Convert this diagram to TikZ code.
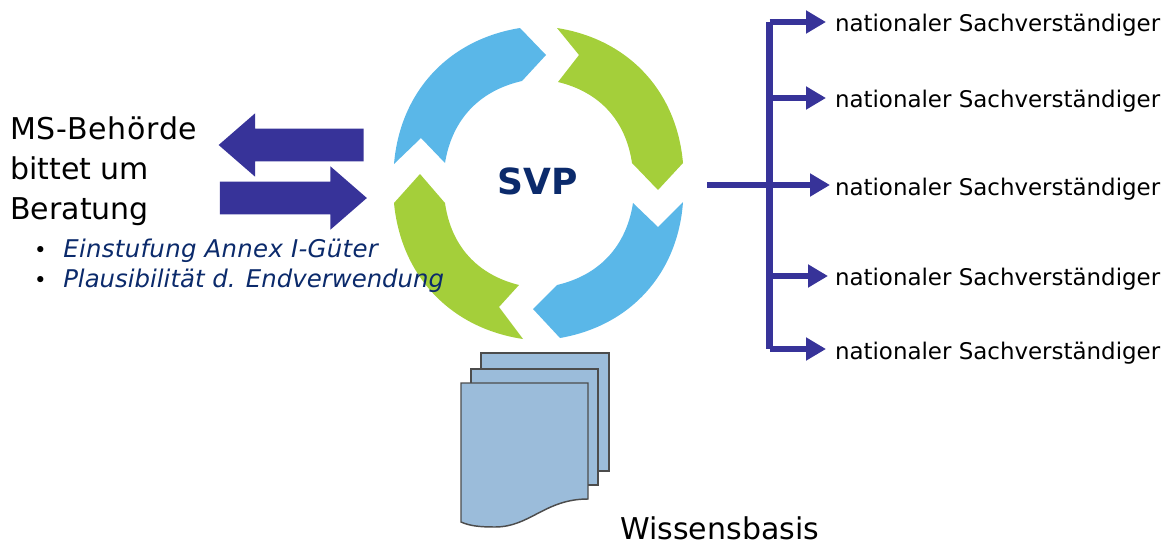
\documentclass[tikz,border=0pt]{standalone}
\usepackage{fontspec}
\setmainfont{DejaVu Sans}
\usepackage{xcolor}
\usetikzlibrary{shapes,arrows.meta,positioning}
\definecolor{svpblue}{HTML}{5AB7E8}
\definecolor{svpgreen}{HTML}{A4CF3A}
\definecolor{pfeilblau}{HTML}{373399}
\definecolor{textblau}{HTML}{0B2A6B}
\definecolor{blatt}{HTML}{9BBCDA}

\begin{document}
\begin{tikzpicture}[
    x=0.75pt, y=-0.75pt,
    segment/.style={draw=none, line join=round},
    bigarrow/.style={single arrow, fill=pfeilblau, inner xsep=0pt, inner ysep=12pt, single arrow head extend=11.6pt, single arrow tip angle=82, single arrow head indent=0pt},
    busline/.style={draw=pfeilblau, line width=4.8pt, line cap=butt},
    busarrow/.style={busline, -{Triangle[length=15pt,width=16.5pt]}},
    expert/.style={anchor=base west, inner sep=0pt, outer xsep=4.5pt, font=\fontsize{17.2}{20}\selectfont},
    sheet/.style={draw=black!70, fill=blatt, line width=1.1pt}
]
    \useasboundingbox (0,0) rectangle (1168,543);

    % ring
    \fill[svpblue, segment] (394,164) to[bend left=38] (520,28) -- (546,55) -- (522,81)
        to[bend right=34] (445,163) -- (421,138) -- cycle;
    \fill[svpgreen, segment] (557,28) to[bend left=38] (683,163) -- (658,190) -- (632,163)
        to[bend right=34] (558,82) -- (579,55) -- cycle;
    \fill[svpblue, segment] (683,202) to[bend left=38] (560,338) -- (533,309) -- (557,285)
        to[bend right=34] (633,203) -- (658,227) -- cycle;
    \fill[svpgreen, segment] (523,339) to[bend left=38] (394,203) -- (420,174) -- (445,203)
        to[bend right=34] (519,285) -- (499,307) -- cycle;
    \node[font=\fontsize{27}{30}\bfseries\selectfont, text=textblau] (svp) at (538,181) {SVP};

    % left side
    \node[bigarrow, shape border rotate=180, minimum height=108.75pt] (anfrage) at (300.5,145) {};
    \node[bigarrow, minimum height=110.25pt] (antwort) at (284,198) {};
    \node[anchor=north west, inner sep=0pt, align=left, font=\fontsize{22.5}{30}\selectfont] (behoerde) at (10,116) {{\addfontfeature{LetterSpace=2.5}MS-Behörde}\\bittet um\\Beratung};
    \foreach \name/\y/\txt in {einstufung/257/{\addfontfeature{LetterSpace=1.3}Einstufung Annex I-Güter}, plausi/287/Plausibilität d. Endverwendung} {
        \node[anchor=base west, inner sep=0pt, text=textblau, font=\fontsize{18.3}{22}\itshape\selectfont] (\name) at (63,\y) {\txt};
        \node[left=17pt of \name.base west, anchor=base, inner sep=0pt, font=\fontsize{16}{18}\selectfont] (\name b) {•};
    }

    % experts
    \foreach \n/\y/\by in {1/22/31, 2/98/107, 3/185/195, 4/276/285, 5/349/359} {
        \node[expert] (sv\n) at (829,\by) {nationaler Sachverständiger};
    }
    \coordinate (bus1) at (769.5,22);
    \coordinate (bus2) at (769.5,98);
    \coordinate (bus3) at (707,185);
    \coordinate (bus4) at (769.5,276);
    \coordinate (bus5) at (769.5,349);
    \draw[busline, line cap=square] (bus1) -- (bus5);
    \foreach \n/\s in {1/2.25pt, 2/2.25pt, 3/-0.75pt, 4/0.75pt, 5/2.25pt} {
        \draw[busarrow, shorten >=\s] (bus\n) -- (bus\n -| sv\n.west);
    }

    % documents
    \draw[sheet] (481,471) -- (481,353) -- (609,353) -- (609,471) -- cycle;
    \draw[sheet] (471,485) -- (471,369) -- (598,369) -- (598,485) -- cycle;
    \draw[sheet] (461,522) -- (461,383) -- (588,383) -- (588,499)
        .. controls (545,499) and (530,527) .. (495,527)
        .. controls (480,527) and (470,526) .. (461,522) -- cycle;
    \node[anchor=base west, inner sep=0pt, font=\fontsize{22.5}{26}\selectfont] (wissen) at (620,539) {Wissensbasis};
\end{tikzpicture}
\end{document}
